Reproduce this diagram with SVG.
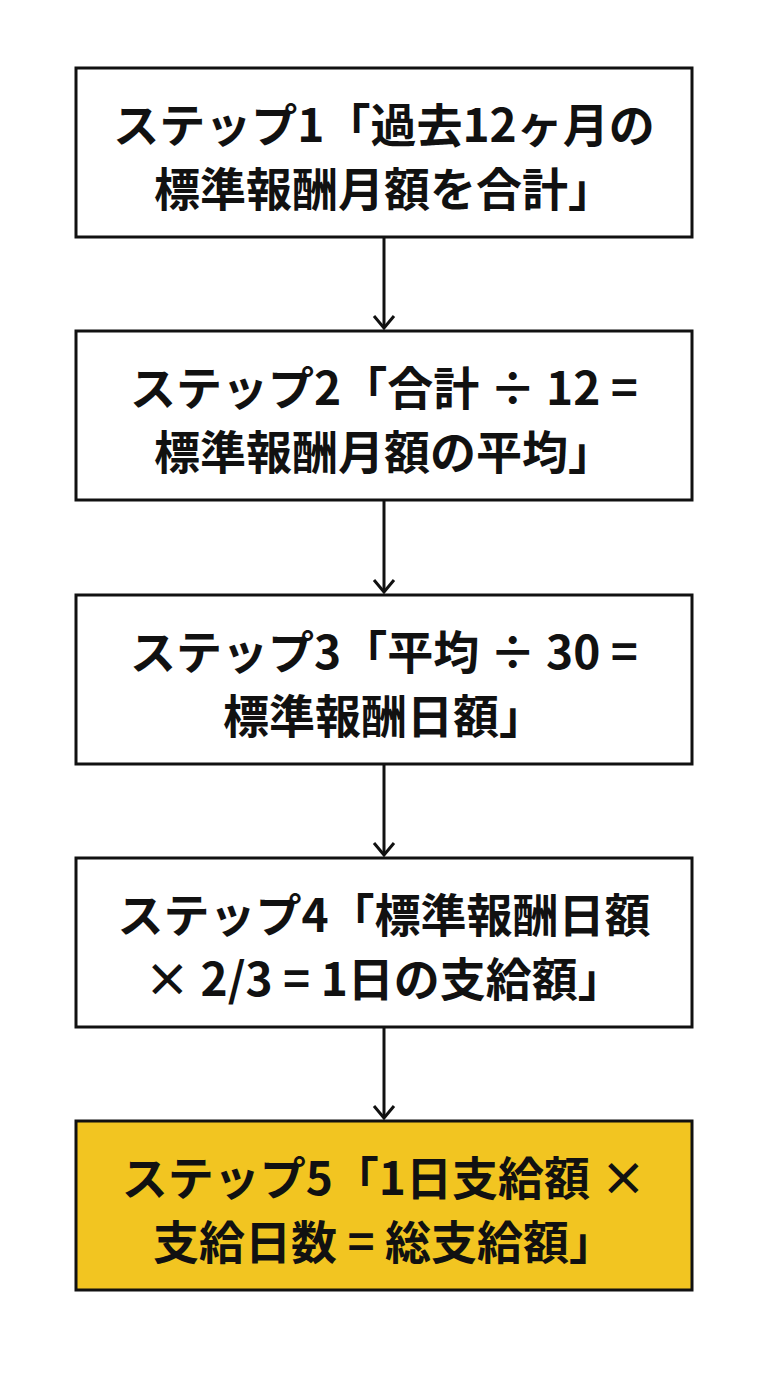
<svg xmlns="http://www.w3.org/2000/svg" width="768" height="1376" viewBox="0 0 768 1376">
<style>
.box{fill:#fff;stroke:#111;stroke-width:3}
.hl{fill:#F2C521}
text{font-family:"Noto Sans CJK JP","Noto Sans",sans-serif;font-weight:bold;font-size:46px;fill:#111;text-anchor:middle}
.c{stroke:#111;stroke-width:3;fill:none}
</style>
<defs>
<marker id="ah" viewBox="0 0 24 24" markerWidth="24" markerHeight="24" refX="22" refY="12" orient="auto" markerUnits="userSpaceOnUse"><path d="M10,2 L22,12 L10,22" fill="none" stroke="#111" stroke-width="3"/></marker></defs>
<g id="connectors">
<line class="c" x1="384" y1="237" x2="384" y2="328" marker-end="url(#ah)"/>
<line class="c" x1="384" y1="500" x2="384" y2="592" marker-end="url(#ah)"/>
<line class="c" x1="384" y1="764" x2="384" y2="855" marker-end="url(#ah)"/>
<line class="c" x1="384" y1="1027" x2="384" y2="1118" marker-end="url(#ah)"/>
</g>
<g id="step1"><rect class="box" x="76" y="68" width="616" height="169"/><text x="384" y="142">ステップ1「過去12ヶ月の</text><text x="384" y="206">標準報酬月額を合計」</text></g>
<g id="step2"><rect class="box" x="76" y="331" width="616" height="169"/><text x="384" y="405">ステップ2「合計 ÷ 12 =</text><text x="384" y="469">標準報酬月額の平均」</text></g>
<g id="step3"><rect class="box" x="76" y="595" width="616" height="169"/><text x="384" y="669">ステップ3「平均 ÷ 30 =</text><text x="384" y="733">標準報酬日額」</text></g>
<g id="step4"><rect class="box" x="76" y="858" width="616" height="169"/><text x="384" y="932">ステップ4「標準報酬日額</text><text x="384" y="996">× 2/3 = 1日の支給額」</text></g>
<g id="step5"><rect class="box hl" x="76" y="1121" width="616" height="169"/><text x="384" y="1195">ステップ5「1日支給額 ×</text><text x="384" y="1259">支給日数 = 総支給額」</text></g>
</svg>
